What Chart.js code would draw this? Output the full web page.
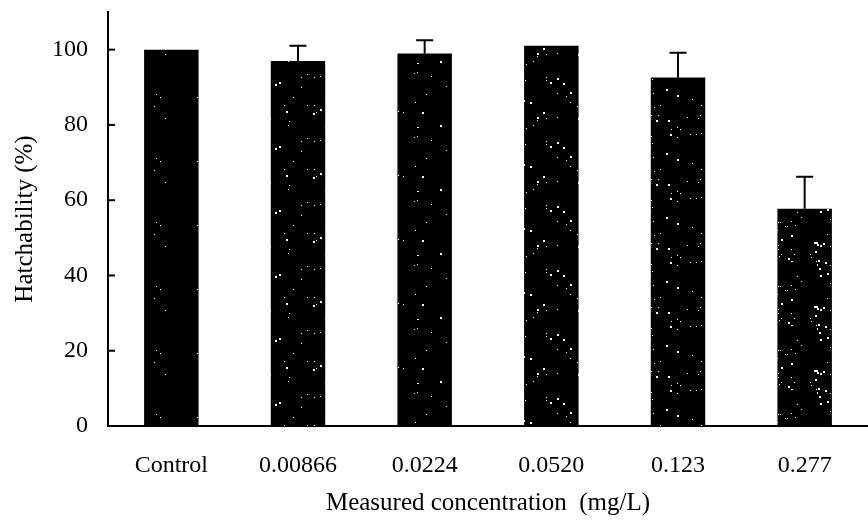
<!DOCTYPE html>
<html>
<head>
<meta charset="utf-8">
<script src="https://cdn.jsdelivr.net/npm/chart.js@4/dist/chart.umd.min.js"></script>
<style>
  html, body { margin: 0; padding: 0; background: #fff; }
  #wrap { width: 868px; height: 524px; }
</style>
</head>
<body>
<div id="wrap"><canvas id="chart" width="868" height="524"></canvas></div>
<script>
const concentrations = ['Control', '0.00866', '0.0224', '0.0520', '0.123', '0.277'];
const hatchability = [100, 97, 99, 101, 92.6, 57.7];
const errorUp = [0, 4, 3.5, 0, 6.6, 8.5];
const yTicks = [0, 20, 40, 60, 80, 100];

// speckled black fill like the scanned bars (texture only)
function speckle(density, seed) {
  const c = document.createElement('canvas');
  c.width = 64; c.height = 64;
  const g = c.getContext('2d');
  g.fillStyle = '#000';
  g.fillRect(0, 0, 64, 64);
  g.fillStyle = '#fff';
  let s = seed >>> 0;
  const rnd = () => {
    s = (s + 0x6D2B79F5) >>> 0;
    let t = s;
    t = Math.imul(t ^ (t >>> 15), t | 1);
    t ^= t + Math.imul(t ^ (t >>> 7), t | 61);
    return ((t ^ (t >>> 14)) >>> 0) / 4294967296;
  };
  for (let i = 0; i < density; i++) {
    const x = Math.floor(rnd() * 64);
    const y = Math.floor(rnd() * 64);
    const r = rnd() < 0.3 ? 2 : 1;
    g.fillRect(x, y, r, r);
  }
  return g.createPattern(c, 'repeat');
}

const ctx = document.getElementById('chart').getContext('2d');
const fills = [speckle(6, 11), speckle(22, 23), speckle(12, 37), speckle(24, 41), speckle(30, 53), speckle(45, 67)];

const errorBars = {
  id: 'errorBars',
  afterDatasetsDraw(chart) {
    const y = chart.scales.y;
    const meta = chart.getDatasetMeta(0);
    const c = chart.ctx;
    c.save();
    c.strokeStyle = '#000';
    c.lineWidth = 2;
    meta.data.forEach((bar, i) => {
      if (!errorUp[i]) return;
      const top = y.getPixelForValue(hatchability[i] + errorUp[i]);
      c.beginPath();
      c.moveTo(bar.x, y.getPixelForValue(hatchability[i]));
      c.lineTo(bar.x, top);
      c.moveTo(bar.x - 8.5, top);
      c.lineTo(bar.x + 8.5, top);
      c.stroke();
    });
    c.restore();
  }
};

// tick marks point into the plot
const innerTicks = {
  id: 'innerTicks',
  afterDraw(chart) {
    const y = chart.scales.y;
    const c = chart.ctx;
    const left = chart.chartArea.left;
    c.save();
    c.strokeStyle = '#000';
    c.lineWidth = 2;
    yTicks.forEach(v => {
      const py = y.getPixelForValue(v);
      c.beginPath();
      c.moveTo(left, py);
      c.lineTo(left + 7, py);
      c.stroke();
    });
    c.restore();
  }
};

new Chart(ctx, {
  type: 'bar',
  data: {
    labels: concentrations,
    datasets: [{
      data: hatchability,
      backgroundColor: fills,
      borderWidth: 0,
      barPercentage: 0.43,
      categoryPercentage: 1
    }]
  },
  options: {
    responsive: false,
    animation: false,
    layout: { padding: { top: 12 } },
    plugins: {
      legend: { display: false },
      tooltip: { enabled: false }
    },
    scales: {
      x: {
        grid: { display: false, drawTicks: false },
        border: { display: true, color: '#000', width: 2 },
        ticks: {
          color: '#000',
          padding: 25,
          maxRotation: 0,
          font: { family: 'Liberation Serif', size: 24 }
        },
        title: {
          display: true,
          text: 'Measured concentration  (mg/L)',
          color: '#000',
          padding: { top: 4, bottom: 6 },
          font: { family: 'Liberation Serif', size: 25 }
        },
        afterFit(s) { s.height = 98; s.paddingLeft = 0; s.paddingRight = 0; }
      },
      y: {
        min: 0,
        max: 110,
        grid: { display: false, drawTicks: false },
        border: { display: true, color: '#000', width: 2 },
        afterBuildTicks(s) { s.ticks = yTicks.map(v => ({ value: v })); },
        ticks: {
          color: '#000',
          padding: 20,
          font: { family: 'Liberation Serif', size: 24 }
        },
        title: {
          display: true,
          text: 'Hatchability (%)',
          color: '#000',
          padding: { top: 10, bottom: 4 },
          font: { family: 'Liberation Serif', size: 25 }
        },
        afterFit(s) { s.width = 108; s.paddingTop = 0; s.paddingBottom = 0; }
      }
    }
  },
  plugins: [errorBars, innerTicks]
});
</script>
</body>
</html>
